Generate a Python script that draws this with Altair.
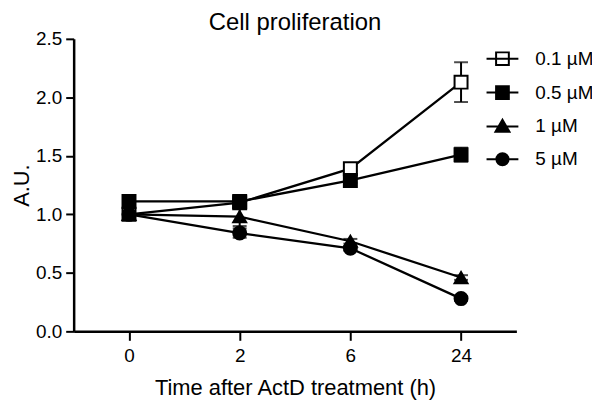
import altair as alt
import pandas as pd

times = ["0", "2", "6", "24"]
series = ["0.1 µM", "0.5 µM", "1 µM", "5 µM"]

v_01 = [1.00, 1.10, 1.39, 2.13]
v_05 = [1.11, 1.11, 1.29, 1.51]
v_1 = [1.00, 0.98, 0.77, 0.46]
v_5 = [1.00, 0.84, 0.71, 0.28]

e_01 = [0.03, 0.02, 0.02, 0.17]
e_05 = [0.03, 0.02, 0.02, 0.06]
e_1 = [0.03, 0.08, 0.02, 0.02]
e_5 = [0.03, 0.04, 0.02, 0.02]

shapes = ["square", "square", "triangle-up", "circle"]
fills = ["white", "black", "black", "black"]
strokes = ["black", "black", "black", "black"]
legend_paths = [
    "M-1,0H1M-0.4,-0.4H0.4V0.4H-0.4Z",
    "M-1,0H1M-0.4,-0.4H0.4V0.4H-0.4Z",
    "M-1,0H1M0,-0.42L0.44,0.34H-0.44Z",
    "M-1,0H1M-0.38,0A0.38,0.38,0,1,1,0.38,0A0.38,0.38,0,1,1,-0.38,0Z",
]

rows = []
for name, vals, errs in zip(series, [v_01, v_05, v_1, v_5], [e_01, e_05, e_1, e_5]):
    for t, v, e in zip(times, vals, errs):
        rows.append({"time": t, "series": name, "value": v, "lo": v - e, "hi": v + e})
df = pd.DataFrame(rows)

FONT = "Liberation Sans"

x_enc = alt.X(
    "time:O",
    sort=times,
    scale=alt.Scale(type="point", padding=0.5),
    axis=alt.Axis(
        title="Time after ActD treatment (h)",
        labelAngle=0,
        labelFontSize=19,
        labelPadding=6,
        tickSize=9,
        tickWidth=2,
        domainWidth=2.5,
        titleFontSize=22,
        titleFontWeight="normal",
        titlePadding=12,
    ),
)
y_scale = alt.Scale(domain=[0, 2.5], nice=False, zero=True)
y_axis = alt.Axis(
    title="A.U.",
    values=[0, 0.5, 1.0, 1.5, 2.0, 2.5],
    format=".1f",
    labelFontSize=19,
    labelPadding=4,
    tickSize=8,
    tickWidth=2,
    domainWidth=2.5,
    grid=False,
    titleFontSize=22,
    titleFontWeight="normal",
    titlePadding=2,
)

base = alt.Chart(df)

lines = base.mark_line(color="black", strokeWidth=2.3).encode(
    x=x_enc,
    y=alt.Y("value:Q", scale=y_scale, axis=y_axis),
    detail="series:N",
)

err_rules = base.mark_rule(color="black", strokeWidth=2).encode(
    x=alt.X("time:O", sort=times),
    y="lo:Q",
    y2="hi:Q",
)
caps_hi = base.mark_tick(color="black", thickness=2, size=14).encode(
    x=alt.X("time:O", sort=times), y="hi:Q"
)
caps_lo = base.mark_tick(color="black", thickness=2, size=14).encode(
    x=alt.X("time:O", sort=times), y="lo:Q"
)

points = base.mark_point(size=170, strokeWidth=2, stroke="black", opacity=1).encode(
    x=alt.X("time:O", sort=times),
    y="value:Q",
    shape=alt.Shape("series:N", sort=series, scale=alt.Scale(domain=series, range=shapes), legend=None),
    fill=alt.Fill("series:N", sort=series, scale=alt.Scale(domain=series, range=fills), legend=None),
)

leg = alt.Legend(title=None, orient="none", legendX=414, legendY=3,
                 symbolSize=1024, symbolStrokeWidth=2, symbolStrokeColor="black",
                 symbolOpacity=1, labelFontSize=19, labelOffset=16,
                 rowPadding=6, padding=0, labelColor="black")

legend_layer = base.mark_point(opacity=0, strokeWidth=2).encode(
    x=alt.X("time:O", sort=times),
    y="value:Q",
    shape=alt.Shape("series:N", sort=series,
                    scale=alt.Scale(domain=series, range=legend_paths), legend=leg),
    fill=alt.Fill("series:N", sort=series,
                  scale=alt.Scale(domain=series, range=fills), legend=leg),
    stroke=alt.Stroke("series:N", sort=series,
                      scale=alt.Scale(domain=series, range=strokes), legend=leg),
)

data_layer = alt.layer(lines, err_rules, caps_hi, caps_lo, points)

chart = (
    alt.layer(data_layer, legend_layer)
    .resolve_scale(shape="independent", fill="independent", stroke="independent")
    .properties(
        width=445,
        height=294,
        autosize=alt.AutoSizeParams(type="none"),
        padding={"left": 66, "top": 30, "right": 76, "bottom": 68},
        title=alt.Title("Cell proliferation", fontSize=24, fontWeight="normal",
                        font=FONT, color="black", offset=7, dy=12, anchor="middle"),
    )
    .configure(font=FONT)
    .configure_view(stroke=None)
    .configure_axis(domainColor="black", tickColor="black", labelColor="black",
                    titleColor="black", labelFont=FONT, titleFont=FONT)
    .configure_legend(labelFont=FONT)
)

chart.save("out.html", embed_options={"renderer": "svg", "actions": False})
